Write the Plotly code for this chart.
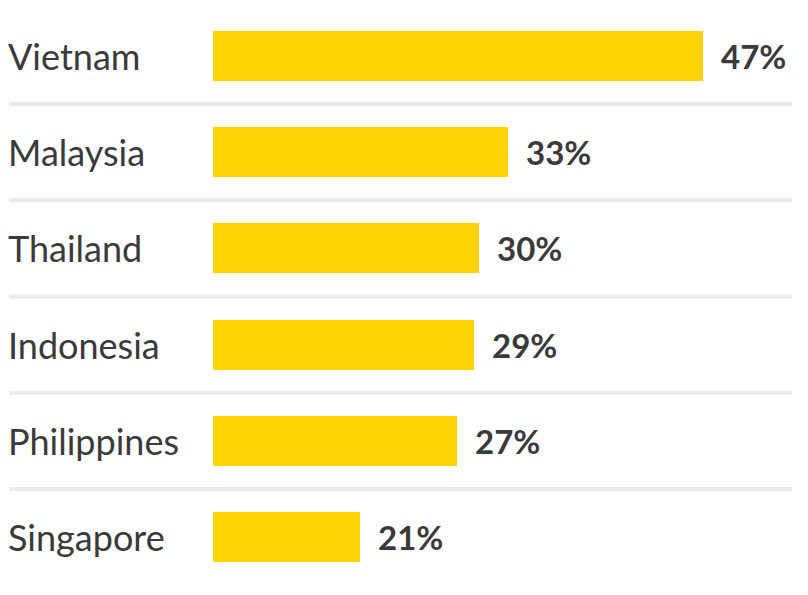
import plotly.graph_objects as go

countries = ["Vietnam", "Malaysia", "Thailand", "Indonesia", "Philippines", "Singapore"]
shares = [47, 33, 30, 29, 27, 21]                 # printed percentages
bar_lengths = [47, 28.3, 25.5, 25.0, 23.4, 14.1]  # bar lengths as drawn in the picture

BAR = "#FFD400"
TEXT = "#3a3a3a"
SEP = "#ebebeb"

idx = list(range(len(countries)))

fig = go.Figure()
fig.add_trace(go.Bar(
    x=bar_lengths, y=idx, orientation="h",
    marker=dict(color=BAR, line=dict(width=0)),
    width=0.52, hoverinfo="skip",
))

annotations = []
for i, (c, s, b) in enumerate(zip(countries, shares, bar_lengths)):
    annotations.append(dict(
        x=0, xref="paper", y=i, yref="y", text=c, showarrow=False,
        xanchor="left", yanchor="middle", xshift=-2,
        font=dict(family="Lato", size=36, color=TEXT),
    ))
    annotations.append(dict(
        x=b, xref="x", y=i, yref="y", text=f"<b>{s}%</b>", showarrow=False,
        xanchor="left", yanchor="middle", xshift=16,
        font=dict(family="Lato", size=33, color=TEXT),
    ))

shapes = []
for i in range(len(countries) - 1):
    shapes.append(dict(
        type="line", xref="paper", yref="y",
        x0=1 / 808, x1=784 / 808, y0=i + 0.5, y1=i + 0.5,
        line=dict(color=SEP, width=4),
    ))

fig.update_layout(
    width=808, height=595,
    margin=dict(l=0, r=0, t=0, b=0),
    paper_bgcolor="white", plot_bgcolor="white",
    showlegend=False,
    xaxis=dict(range=[-19.66, 57.84], visible=False, fixedrange=True),
    yaxis=dict(range=[5.686, -0.499], visible=False, fixedrange=True),
    annotations=annotations, shapes=shapes,
    bargap=0,
)

fig.write_html("out.html")
